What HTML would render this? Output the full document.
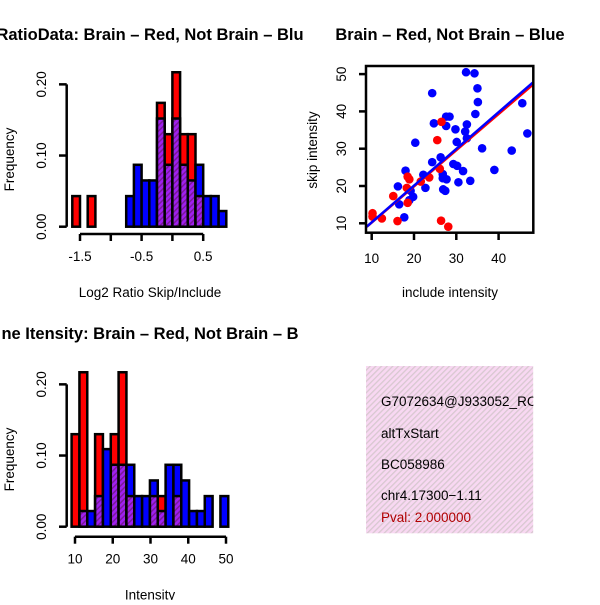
<!DOCTYPE html>
<html><head><meta charset="utf-8"><style>
body{margin:0;background:#fff}
svg text{font-family:"Liberation Sans",sans-serif}
</style></head><body>
<svg id="c" width="600" height="600" xmlns="http://www.w3.org/2000/svg">
<defs>
<pattern id="hatch" width="4" height="4" patternUnits="userSpaceOnUse" patternTransform="rotate(45)">
<rect width="4" height="4" fill="#a020f0"/><rect width="1.5" height="4" fill="#7a1a9a"/></pattern>
<pattern id="pink" width="4" height="4" patternUnits="userSpaceOnUse" patternTransform="rotate(45)">
<rect width="4" height="4" fill="#f8d8f2"/><rect width="1.3" height="4" fill="#d8c8d0"/></pattern>
<clipPath id="sclip"><rect x="366" y="66" width="167.3" height="166.7"/></clipPath>
</defs>
<g id="g"></g>
</svg>
<script>
// top-left histogram (log2 ratio), bins start -1.625 width 0.125
const ratioRed  = [0.043,0,0.043,0,0,0,0,0,0,0,0,0.174,0.13,0.217,0.13,0.13,0.043,0,0,0];
const ratioBlue = [0,0,0,0,0,0,0,0.043,0.087,0.065,0.065,0.152,0.087,0.152,0.087,0.065,0.087,0.043,0.043,0.022];
const ratioTicks = [-1.5,-1.0,-0.5,0,0.5];
const ratioTickLabels = ["-1.5","","-0.5","","0.5"];
// bottom-left histogram (intensity), bins start 9.1 width 2.075
const intRed  = [0.13,0.217,0,0.13,0,0.13,0.217,0.043,0,0,0.043,0.043,0,0.043,0,0,0,0,0,0];
const intBlue = [0,0.022,0.022,0.043,0.109,0.087,0.087,0.087,0.043,0.043,0.065,0.022,0.087,0.087,0.065,0.022,0.022,0.043,0,0.043];
const intTicks = [10,20,30,40,50];
const freqTicks = [0,0.1,0.2];
const freqTickLabels = ["0.00","0.10","0.20"];
// scatter
const blueX = [32.3,34.3,35,24.3,45.6,35.1,34.5,27.6,28.4,24.7,27.6,29.8,32.5,32.1,46.8,20.3,30.1,32.5,36.1,43.1,26.3,24.3,29.3,30.2,31.6,39,18,22.2,26.8,26.8,27.7,30.5,33.3,22.7,16.2,19.2,26.9,27.4,19.8,18.9,16.5,17.7];
const blueY = [50.5,50.2,46.2,44.9,42.2,42.5,39.3,38.6,38.6,36.8,36.1,35.2,36.5,34.6,34.1,31.6,31.8,32.8,30.1,29.5,27.7,26.4,25.9,25.4,24,24.3,24.1,23,23.2,22.1,21.8,21,21.4,19.5,19.9,18.7,19.1,18.7,17.1,16.2,15.1,11.6];
const redX = [26.5,25.5,18.5,18.9,23.6,21.6,26.1,18.3,15.1,18.5,10.2,10.2,12.4,16.1,26.4,28.1];
const redY = [37.2,32.3,22.5,21.8,22.3,21.2,24.6,19.5,17.3,15.5,12.7,11.8,11.3,10.6,10.7,9.1];
const redFit = [0.5,0.97];   // intercept, slope
const blueFit = [0.42,0.984];
const scatXTicks = [10,20,30,40];
const scatYTicks = [10,20,30,40,50];

const NS="http://www.w3.org/2000/svg", ROOT=document.getElementById('g');
let G=ROOT;
function el(t,a,txt){const e=document.createElementNS(NS,t);for(const k in a)e.setAttribute(k,a[k]);if(txt!==undefined)e.textContent=txt;G.appendChild(e);return e;}
function txt(x,y,s,size,opt){opt=opt||{};const a={x:x,y:y,'font-size':size,'text-anchor':opt.anchor||'middle',fill:opt.fill||'#000'};if(opt.bold)a['font-weight']='bold';if(opt.rot)a.transform='rotate(-90 '+x+' '+y+')';return el('text',a,s);}

function hist(red,blue,start,width,xmap,y0,title,ty,xlab,ticks,tlabels,axY,hname){
  const ys=v=>y0-v*711.7;
  for(let i=0;i<red.length;i++){
    const x1=xmap(start+i*width),x2=xmap(start+(i+1)*width);
    const r=red[i],b=blue[i];const mx=Math.max(r,b),mn=Math.min(r,b);
    if(mx>0){const e=el('rect',{x:x1,y:ys(mx),width:x2-x1,height:ys(0)-ys(mx),fill:r>=b?'#ff0000':'#0000ff',stroke:'#000','stroke-width':2.5});
      
      }
    if(mn>0){const e=el('rect',{x:x1,y:ys(mn),width:x2-x1,height:ys(0)-ys(mn),fill:'url(#hatch)',stroke:'#000','stroke-width':2.5});
      
      }
  }
  el('line',{x1:66.7,x2:66.7,y1:ys(0),y2:ys(0.2),stroke:'#000','stroke-width':2.5});
  freqTicks.forEach((t,i)=>{el('line',{x1:59,x2:66.7,y1:ys(t),y2:ys(t),stroke:'#000','stroke-width':2.5});
    const e=txt(46,ys(t),freqTickLabels[i],13.5,{rot:true});});
  el('line',{x1:xmap(ticks[0]),x2:xmap(ticks[ticks.length-1]),y1:axY,y2:axY,stroke:'#000','stroke-width':2.5});
  ticks.forEach((t,i)=>{el('line',{x1:xmap(t),x2:xmap(t),y1:axY,y2:axY+7,stroke:'#000','stroke-width':2.5});
    if(tlabels[i]){const e=txt(xmap(t),axY+27,tlabels[i],13.5);}});
  let e=txt(150,ty,title,16.5,{bold:true});
  e=txt(150,axY+63,xlab,13.5);
  e=txt(14,ys(0.1)+4,'Frequency',13.5,{rot:true});
}
hist(ratioRed,ratioBlue,-1.625,0.125,v=>80+(v+1.5)*61.6,226.7,'RatioData: Brain \u2013 Red, Not Brain \u2013 Blu',40,'Log2 Ratio Skip/Include',ratioTicks,ratioTickLabels,234,'ratio');
hist(intRed,intBlue,9.1,2.075,v=>75+(v-10)*3.775,526.7,'ne Itensity: Brain \u2013 Red, Not Brain \u2013 B',339,'Intensity',intTicks,intTicks.map(String),536.7,'intensity');

// scatter
const sx=v=>371.7+(v-10)*4.23, sy=v=>223.3-(v-10)*3.73;
const sg=document.createElementNS(NS,'g');sg.setAttribute('clip-path','url(#sclip)');ROOT.appendChild(sg);G=sg;
blueX.forEach((x,i)=>{const e=el('circle',{cx:sx(x),cy:sy(blueY[i]),r:4.3,fill:'#0000ff'});
  });
redX.forEach((x,i)=>{const e=el('circle',{cx:sx(x),cy:sy(redY[i]),r:4.3,fill:'#ff0000'});
  });
[[redFit,'#ff0000','fit-line-brain'],[blueFit,'#0000ff','fit-line-not-brain']].forEach(([f,c,n])=>{
  const x1=8.82,x2=48.06;const e=el('line',{x1:sx(x1),y1:sy(f[0]+f[1]*x1),x2:sx(x2),y2:sy(f[0]+f[1]*x2),stroke:c,'stroke-width':2.5});
  });
G=ROOT;
let e=el('rect',{x:366,y:66,width:167.3,height:166.7,fill:'none',stroke:'#000','stroke-width':2.5});

scatXTicks.forEach(t=>{el('line',{x1:sx(t),x2:sx(t),y1:232.7,y2:240,stroke:'#000','stroke-width':2.5});
  const e=txt(sx(t),263,String(t),13.5);});
scatYTicks.forEach(t=>{el('line',{x1:359,x2:366,y1:sy(t),y2:sy(t),stroke:'#000','stroke-width':2.5});
  const e=txt(346,sy(t),String(t),13.5,{rot:true});});
e=txt(450,40,'Brain \u2013 Red, Not Brain \u2013 Blue',16.5,{bold:true});
e=txt(450,297,'include intensity',13.5);
e=txt(317,150,'skip intensity',13.5,{rot:true});

// info box
e=el('rect',{x:366,y:366,width:167.3,height:167.3,fill:'url(#pink)'});

const info=[['G7072634@J933052_RC',406,'#000','event-id'],['altTxStart',438,'#000','event-type'],['BC058986',469,'#000','accession'],['chr4.17300\u22121.11',500,'#000','locus'],['Pval: 2.000000',522,'#b00000','p-value']];
info.forEach(([s,y,c,n])=>{const e=txt(381,y,s,13.5,{anchor:'start',fill:c});});
el('rect',{x:533.3,y:366,width:66.7,height:170,fill:'#fff'});
</script>
</body></html>
